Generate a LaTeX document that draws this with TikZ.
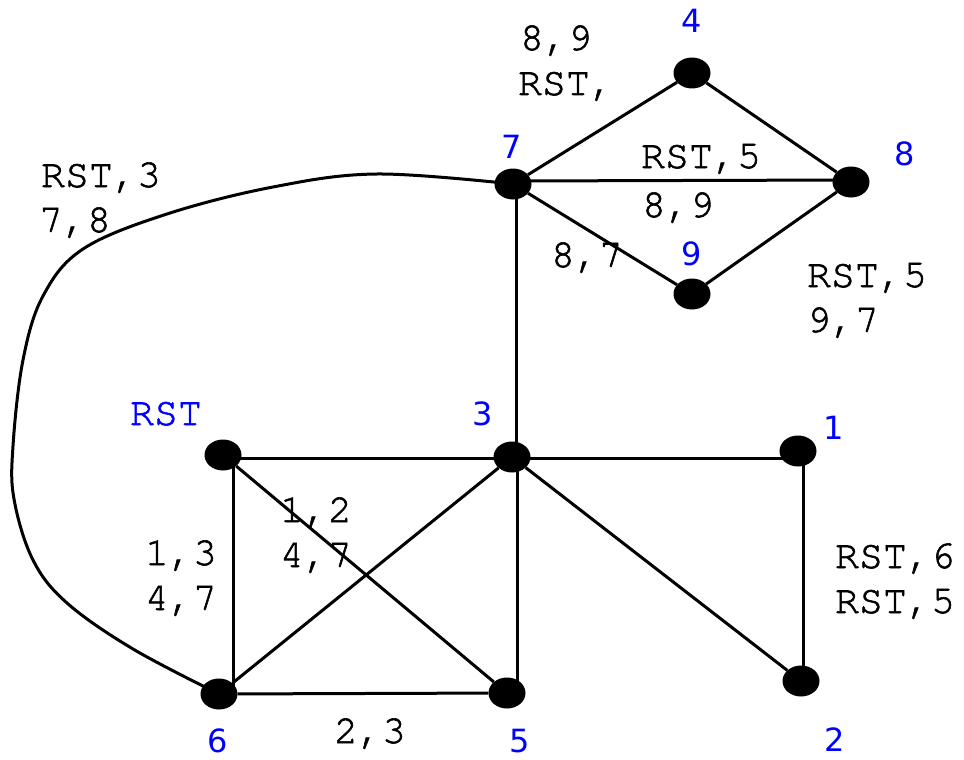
\documentclass[tikz,border=0pt]{standalone}
\usepackage{fontspec}
\setmonofont{TeX Gyre Cursor}[FakeBold=1.5]
\newfontfamily\numfont{DejaVu Sans}
\usetikzlibrary{backgrounds,calc,shapes.geometric}
\begin{document}
\begin{tikzpicture}[x=1pt,y=-1pt,
  vtx/.style={ellipse,fill=black,minimum width=37pt,minimum height=31pt,inner sep=0pt},
  lbl/.style={font=\ttfamily\fontsize{40}{46}\selectfont,anchor=base,inner sep=0pt},
  num/.style={font=\numfont\fontsize{32}{38}\selectfont,text=blue,anchor=base,inner sep=0pt},
  bluett/.style={font=\ttfamily\fontsize{40}{46}\selectfont,text=blue,anchor=base,inner sep=0pt},
  link/.style={line width=3pt}]
\useasboundingbox (0,0) rectangle (964,760);
% vertices
\node[vtx] (n4) at (692,73) {};
\node[vtx] (n7) at (513,184) {};
\node[vtx] (n8) at (851,182) {};
\node[vtx] (n9) at (692,294) {};
\node[vtx] (nR) at (223,455) {};
\node[vtx] (n3) at (512,457) {};
\node[vtx] (n1) at (798,451) {};
\node[vtx] (n6) at (219,694) {};
\node[vtx] (n5) at (507,693) {};
\node[vtx] (n2) at (801,681) {};
% edges
\begin{pgfonlayer}{background}
\draw[link] (n7) -- (n4);
\draw[link] (n4) -- (n8);
\draw[link] ($(n7)+(0,-3)$) -- ($(n8)+(0,-2)$);
\draw[link] (n7) -- (n9);
\draw[link] (n9) -- (n8);
\draw[link] ($(n7)+(3,0)$) -- ($(n3)+(4,0)$);
\draw[link] ($(nR)+(0,3)$) -- ($(n3)+(0,1)$);
\draw[link] ($(n3)+(0,1)$) -- ($(n1)+(0,7)$);
\draw[link] ($(n1)+(5,0)$) -- ($(n2)+(2,0)$);
\draw[link] (n3) -- (n2);
\draw[link] ($(n3)+(5,0)$) -- ($(n5)+(10,0)$);
\draw[link] (n3) -- (n6);
\draw[link] (nR) -- (n5);
\draw[link] ($(nR)+(10,0)$) -- ($(n6)+(14,0)$);
\draw[link] (n6) -- (n5);
\draw[link] plot[smooth,tension=0.6] coordinates {(n7) (377,174) (273,187) (167,214) (83,249) (43,296) (23,360) (13,446) (14,499) (33,560) (67,603) (133,649) (n6)};
\end{pgfonlayer}
% vertex labels
\node[num] (t4) at (692,33) {4};
\node[num] (t7) at (512,158) {7};
\node[num] (t8) at (905,165) {8};
\node[num] (t9) at (692,265) {9};
\node[bluett] (tR) at (166,425) {RST};
\node[num] (t3) at (483,425) {3};
\node[num] (t1) at (834,439) {1};
\node[num] (t6) at (218,752) {6};
\node[num] (t5) at (520,752) {5};
\node[num] (t2) at (835,751) {2};
% edge labels
\node[lbl] (a1) at (556,50) {8,9};
\node[lbl] (a2) at (566,95) {RST,};
\node[lbl] (b1) at (701,168) {RST,5};
\node[lbl] (b2) at (678,217) {8,9};
\node[lbl] (c1) at (101,187) {RST,3};
\node[lbl] (c2) at (75,232) {7,8};
\node[lbl] (d1) at (587,267) {8,7};
\node[lbl] (e1) at (867,287) {RST,5};
\node[lbl] (e2) at (843,332) {9,7};
\node[lbl] (f1) at (316,522) {1,2};
\node[lbl] (f2) at (316,567) {4,7};
\node[lbl] (g1) at (181,565) {1,3};
\node[lbl] (g2) at (181,610) {4,7};
\node[lbl] (h1) at (895,568) {RST,6};
\node[lbl] (h2) at (895,613) {RST,5};
\node[lbl] (k1) at (370,743) {2,3};
\end{tikzpicture}
\end{document}
